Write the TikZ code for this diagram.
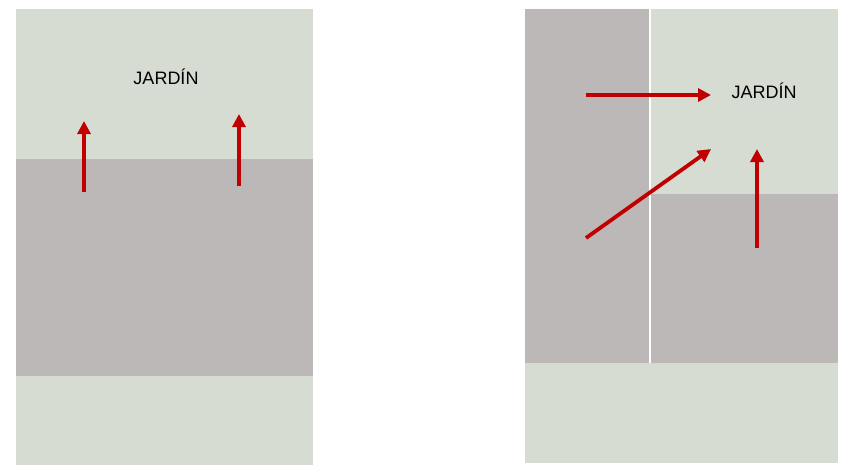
\documentclass[tikz,border=0pt]{standalone}
\usepackage{fontspec}
\setmainfont{Liberation Sans}
\usetikzlibrary{arrows.meta, positioning, calc}
\usepackage{xcolor}
\definecolor{garden}{HTML}{D6DCD2}
\definecolor{house}{HTML}{BCB8B7}
\definecolor{flow}{HTML}{C00000}

\begin{document}
\begin{tikzpicture}[%
    x=1pt, y=-1pt,
    >={Triangle[length=13pt 0 0,width=13pt 0 0]},
    every node/.style={%
      font=\fontsize{18}{20}\selectfont,
      text=black,
      text centered,
      align=center
    },
    flowarrow/.style={->, draw=flow, fill=flow, line width=3.8pt}
  ]

  \useasboundingbox (0,0) rectangle (849,467);

  % Left plan
  \fill[garden] (16,9) rectangle (313,159);
  \fill[house] (16,159) rectangle (313,376);
  \fill[garden] (16,376) rectangle (313,465);

  \node (j1) at (166,77) {JARDÍN};

  \coordinate (a1) at (84,192);
  \coordinate (b1) at (84,121);
  \coordinate (a2) at (239,186);
  \coordinate (b2) at (239,114);
  \draw[flowarrow] (a1) -- (b1);
  \draw[flowarrow] (a2) -- (b2);

  % Right plan
  \fill[house] (525,9) rectangle (649,364);
  \fill[garden] (651,9) rectangle (838,194);
  \fill[house] (651,194) rectangle (838,364);
  \fill[garden] (525,363) rectangle (838,463);

  \node (j2) at (764,91) {JARDÍN};

  \coordinate (c1) at (586,95);
  \coordinate (d1) at (711,95);
  \coordinate (c2) at (586,238);
  \coordinate (d2) at (711,149);
  \coordinate (c3) at (757,248);
  \coordinate (d3) at (757,149);
  \draw[flowarrow] (c1) -- (d1);
  \draw[flowarrow] (c2) -- (d2);
  \draw[flowarrow] (c3) -- (d3);

\end{tikzpicture}
\end{document}
